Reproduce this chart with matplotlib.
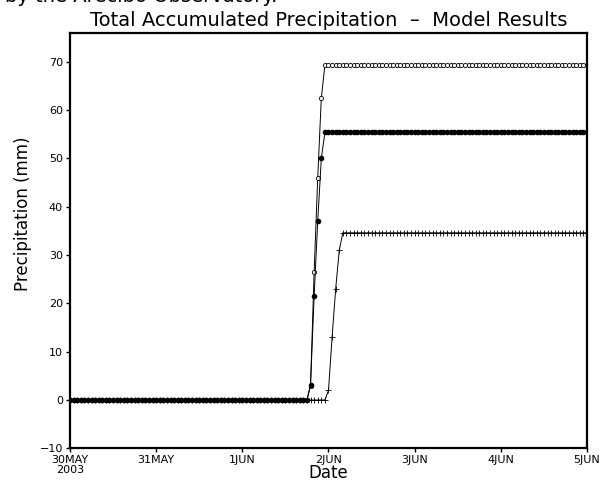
import numpy as np
import matplotlib
matplotlib.use("Agg")
import matplotlib.pyplot as plt

# hourly output from 30MAY2003 00Z to 5JUN2003 00Z
hours = np.arange(145)
day_ticks = [0, 24, 48, 72, 96, 120, 144]
day_labels = ["30MAY\n2003", "31MAY", "1JUN", "2JUN", "3JUN", "4JUN", "5JUN"]

# accumulated precipitation (mm)
open_circle = [0.0] * 67 + [3.0, 26.5, 46.0, 62.5] + [69.3] * 74
filled_circle = [0.0] * 67 + [3.2, 21.5, 37.0, 50.0] + [55.4] * 74
plus_run = [0.0] * 72 + [2.0, 13.0, 23.0, 31.0] + [34.6] * 69

plt.rcParams['font.family'] = ['DejaVu Sans']

fig = plt.figure(figsize=(6.09, 4.82), dpi=100)
ax = fig.add_axes([0.1149, 0.0699, 0.849, 0.861])

ax.plot(hours, open_circle, color='black', lw=0.7, marker='o', ms=3.0,
        mfc='white', mec='black', mew=0.6)
ax.plot(hours, filled_circle, color='black', lw=0.7, marker='o', ms=3.0,
        mfc='black', mec='black')
ax.plot(hours, plus_run, color='black', lw=0.7, marker='+', ms=4.5, mew=0.6)

ax.set_xlim(0, 144)
ax.set_ylim(-10, 75.9)
ax.set_xticks(day_ticks)
ax.set_xticklabels(day_labels, fontsize=8, linespacing=0.95)
ax.set_yticks(range(-10, 80, 10))
ax.tick_params(axis='both', direction='out', length=3, width=1, labelsize=8, pad=2)
for s in ax.spines.values():
    s.set_linewidth(1.6)

ax.set_xlabel("Date", fontsize=12)
ax.xaxis.set_label_coords(0.5, -0.038)
ax.set_ylabel("Precipitation (mm)", fontsize=12)
ax.yaxis.set_label_coords(-0.073, 0.565)

ax.set_title("Total Accumulated Precipitation  \u2013  Model Results", fontsize=14, pad=5)
# caption text cut off by the top of the image
fig.text(5 / 609, 1 - 2 / 482, "by the Arecibo Observatory.", ha='left', va='baseline',
         fontsize=14)

fig.savefig("out.png", dpi=100)
